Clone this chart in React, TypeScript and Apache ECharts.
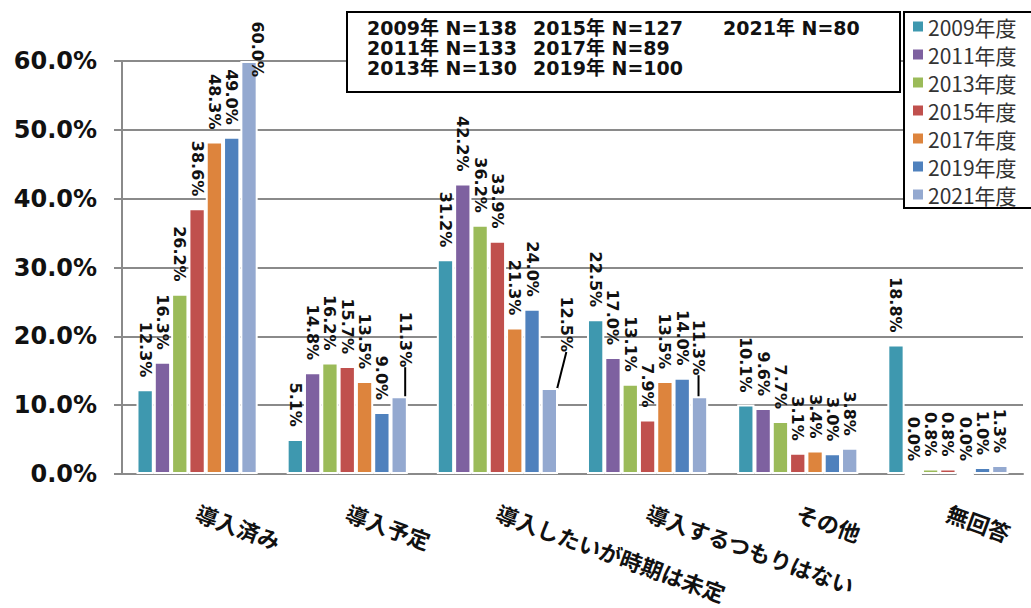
import React, { useEffect, useRef } from "react";
import * as echarts from "echarts";

const categories = [
  "導入済み",
  "導入予定",
  "導入したいが時期は未定",
  "導入するつもりはない",
  "その他",
  "無回答",
];

const years = ["2009年度", "2011年度", "2013年度", "2015年度", "2017年度", "2019年度", "2021年度"];

const v2009 = [12.3, 5.1, 31.2, 22.5, 10.1, 18.8];
const v2011 = [16.3, 14.8, 42.2, 17.0, 9.6, 0.0];
const v2013 = [26.2, 16.2, 36.2, 13.1, 7.7, 0.8];
const v2015 = [38.6, 15.7, 33.9, 7.9, 3.1, 0.8];
const v2017 = [48.3, 13.5, 21.3, 13.5, 3.4, 0.0];
const v2019 = [49.0, 9.0, 24.0, 14.0, 3.0, 1.0];
const v2021 = [60.0, 11.3, 12.5, 11.3, 3.8, 1.3];

const sampleYears = ["2009年", "2011年", "2013年", "2015年", "2017年", "2019年", "2021年"];
const sampleN = [138, 133, 130, 127, 89, 100, 80];

const yTicks = [0, 10, 20, 30, 40, 50, 60];

const colors = ["#3E98AF", "#7E61A0", "#9BBB59", "#C0504D", "#DD843D", "#4F81BD", "#94A9D0"];

const seriesValues = [v2009, v2011, v2013, v2015, v2017, v2019, v2021];

// label nudges in screen pixels (style only): "series-dataIndex" -> [right, down]
const labelShift: Record<string, [number, number]> = {
  "6-0": [8, 28],
  "6-1": [6, -17],
  "6-2": [17, -24],
  "6-3": [-1, -9],
};
const leaderLines: Record<string, boolean> = { "6-1": true, "6-2": true, "6-3": true };

export default function App() {
  const ref = useRef<HTMLDivElement>(null);

  useEffect(() => {
    if (!ref.current) return;
    const chart = echarts.init(ref.current, null, { renderer: "svg" });

    const latin = "'DejaVu Sans', 'Noto Sans CJK JP', sans-serif";
    const cjk = "'Noto Sans CJK JP', sans-serif";

    const series = seriesValues.map((vals, i) => ({
      name: years[i],
      type: "bar",
      data: vals.map((v, j) =>
        leaderLines[`${i}-${j}`]
          ? { value: v, labelLine: { show: true, lineStyle: { color: "#000", width: 2 } } }
          : v
      ),
      barGap: "0%",
      barCategoryGap: "19.3%",
      itemStyle: { color: colors[i], borderColor: "#ffffff", borderWidth: 2 },
      label: {
        show: true,
        position: "top",
        distance: 12,
        rotate: -90,
        align: "right",
        verticalAlign: "middle",
        fontFamily: latin,
        fontWeight: "bold",
        fontSize: 16,
        color: "#111",
        formatter: (p: any) => `${Number(p.value).toFixed(1)}%`,
      },
      labelLayout: (p: any) => {
        const s = labelShift[`${p.seriesIndex}-${p.dataIndex}`];
        // dx/dy act in the label's rotated (-90deg) frame
        return s ? { dx: s[1], dy: -s[0] } : {};
      },
    }));

    // Sample size annotation box
    const colX = [367, 533, 723];
    const rowY = [28, 48, 68];
    const noteTexts: any[] = sampleYears.map((y, i) => ({
      type: "text",
      x: colX[Math.floor(i / 3)],
      y: rowY[i % 3],
      z: 101,
      style: {
        text: `${y} N=${sampleN[i]}`,
        font: `bold 19px ${latin}`,
        fill: "#111",
        verticalAlign: "middle",
      },
    }));

    chart.setOption({
      animation: false,
      backgroundColor: "#ffffff",
      color: colors,
      grid: { left: 122, right: 8, top: 61, bottom: 134, containLabel: false },
      legend: {
        orient: "vertical",
        left: 904,
        top: 12,
        padding: [4, 40, 3, 9],
        itemWidth: 10,
        itemHeight: 10,
        itemGap: 7,
        backgroundColor: "#ffffff",
        borderColor: "#000000",
        borderWidth: 2,
        icon: "rect",
        itemStyle: { borderWidth: 0 },
        textStyle: { fontFamily: cjk, fontSize: 21, lineHeight: 21, color: "#333" },
        data: years,
      },
      xAxis: {
        type: "category",
        data: categories,
        axisLine: { show: true, lineStyle: { color: "#8a8a8a", width: 2 } },
        axisTick: { show: false },
        axisLabel: {
          rotate: -20,
          margin: 37,
          interval: 0,
          fontFamily: cjk,
          fontWeight: "bold",
          fontSize: 22,
          color: "#111",
        },
      },
      yAxis: {
        type: "value",
        min: yTicks[0],
        max: yTicks[yTicks.length - 1],
        interval: 10,
        axisLine: { show: true, lineStyle: { color: "#8a8a8a", width: 2 } },
        axisTick: { show: true, length: 8, lineStyle: { color: "#8a8a8a", width: 2 } },
        splitLine: { show: true, lineStyle: { color: "#8a8a8a", width: 2 } },
        axisLabel: {
          margin: 25,
          fontFamily: latin,
          fontWeight: "bold",
          fontSize: 24,
          color: "#111",
          formatter: (v: number) => `${v.toFixed(1)}%`,
        },
      },
      graphic: [
        {
          type: "rect",
          z: 100,
          shape: { x: 347, y: 12, width: 553, height: 80 },
          style: { fill: "#ffffff", stroke: "#000000", lineWidth: 2 },
        },
        ...noteTexts,
      ],
      series,
    });

    return () => chart.dispose();
  }, []);

  return (
    <div
      ref={ref}
      style={{ position: "fixed", left: 0, top: 0, width: 1031, height: 608 }}
    />
  );
}
